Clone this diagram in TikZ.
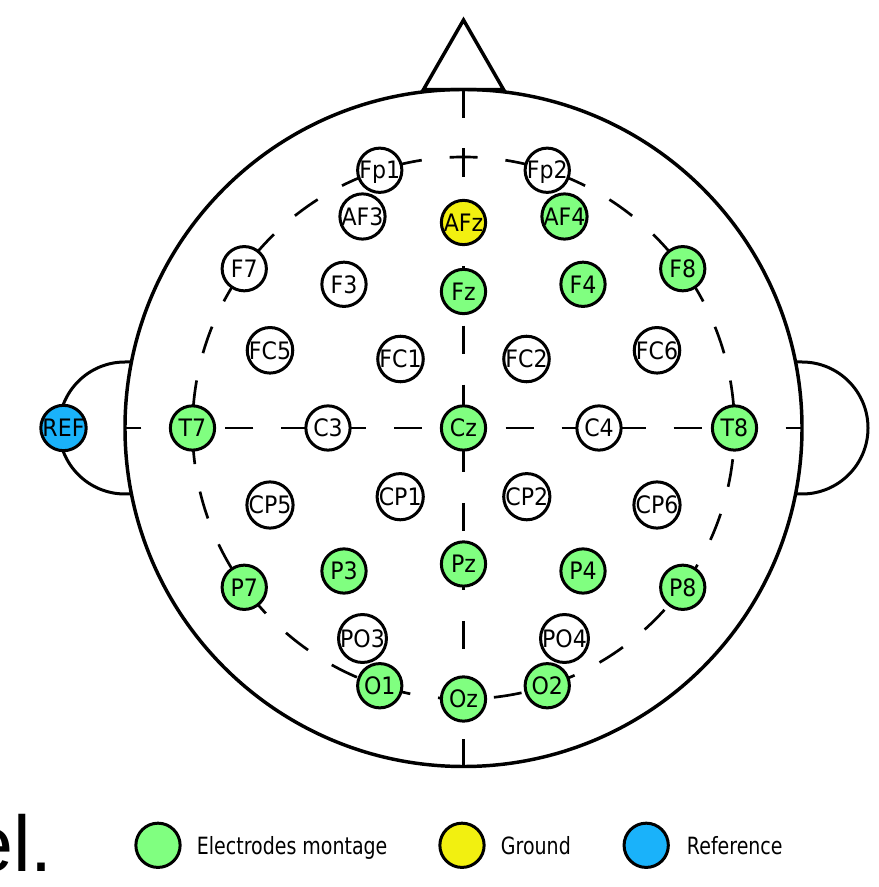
\documentclass[tikz,border=0pt]{standalone}
\usepackage{fontspec}
\newfontfamily\elfont[FakeStretch=0.92]{DejaVu Sans}
\newfontfamily\legfont[FakeStretch=0.8]{DejaVu Sans}
\newfontfamily\capfont{Liberation Sans}
\definecolor{elgreen}{RGB}{128,255,128}
\definecolor{elyellow}{RGB}{242,240,16}
\definecolor{elblue}{RGB}{26,178,250}
\tikzset{
  outline/.style={draw=black, line width=2.6pt, line join=miter},
  earline/.style={draw=black, line width=2.25pt},
  guide/.style={draw=black, line width=2pt, dash pattern=on 21pt off 21pt},
  electrode/.style={circle, draw=black, line width=2.25pt, fill=white,
    minimum size=33.2pt, inner sep=0pt,
    font=\elfont\fontsize{18}{20}\selectfont, text height=13.12pt, text depth=0pt},
  montage/.style={electrode, fill=elgreen},
  ground/.style={electrode, fill=elyellow},
  reference/.style={electrode, fill=elblue},
  legendtext/.style={anchor=base west, inner sep=0pt,
    font=\legfont\fontsize{17.8}{20}\selectfont}
}
\begin{document}
\begin{tikzpicture}[x=0.75pt,y=0.75pt]
  \useasboundingbox (-463.5,-459) rectangle (414.5,428);
  \fill[white] (-463.5,-459) rectangle (414.5,428);
  \clip (-463.5,-459) rectangle (414.5,428);

  % ears
  \draw[earline] (-332,66) -- (-338.5,66) arc[start angle=90, end angle=270, radius=66] -- (-332,-66);
  \draw[earline] (332,66) -- (338.5,66) arc[start angle=90, end angle=-90, radius=66] -- (332,-66);

  % head and nose
  \draw[outline] (0,0) circle[radius=338.5];
  \draw[outline] (-40,338.5) -- (0,408) -- (40,338.5) -- cycle;

  % midlines and the 10% ring
  \draw[guide, dash pattern=on 21.4pt off 22.9pt] (0,338.7) -- (0,-338.5);
  \draw[guide, dash phase=10.5pt] (0,0) -- (-338,0);
  \draw[guide, dash phase=10.5pt] (0,0) -- (338.5,0);
  \draw[guide, dash phase=27.24pt] (271,0) arc[start angle=0, end angle=360, radius=271];

  % frontal pole
  \node[electrode] (fp1) at (108:271) {Fp1};
  \node[electrode] (fp2) at (72:271)  {Fp2};
  \node[electrode] (af3) at (-101,211.5) {AF3};
  \node[ground]    (afz) at (0,205.5)    {AFz};
  \node[montage]   (af4) at (101,211.5)  {AF4};

  % frontal
  \node[electrode] (f7) at (144:271)     {F7};
  \node[electrode] (f3) at (-119.5,143.7) {F3};
  \node[montage]   (fz) at (0,136.5)      {Fz};
  \node[montage]   (f4) at (119.5,143.7)  {F4};
  \node[montage]   (f8) at (36:271)       {F8};

  % fronto-central
  \node[electrode] (fc5) at (-193.5,77.7) {FC5};
  \node[electrode] (fc1) at (-63,69)      {FC1};
  \node[electrode] (fc2) at (63,69)       {FC2};
  \node[electrode] (fc6) at (193.5,77.7)  {FC6};

  % central row
  \node[reference] (ref) at (-400,0)  {REF};
  \node[montage]   (t7)  at (180:271) {T7};
  \node[electrode] (c3)  at (-135.5,0) {C3};
  \node[montage]   (cz)  at (0,0)      {Cz};
  \node[electrode] (c4)  at (135.5,0)  {C4};
  \node[montage]   (t8)  at (0:271)    {T8};

  % centro-parietal
  \node[electrode] (cp5) at (-193.5,-77) {CP5};
  \node[electrode] (cp1) at (-63.3,-68.7) {CP1};
  \node[electrode] (cp2) at (63.3,-68.7)  {CP2};
  \node[electrode] (cp6) at (193.5,-77)   {CP6};

  % parietal
  \node[montage] (p7) at (216:271)      {P7};
  \node[montage] (p3) at (-119.5,-143)  {P3};
  \node[montage] (pz) at (0,-136)       {Pz};
  \node[montage] (p4) at (119.5,-143)   {P4};
  \node[montage] (p8) at (324:271)      {P8};

  % parieto-occipital and occipital
  \node[electrode] (po3) at (-101,-210.5) {PO3};
  \node[electrode] (po4) at (101,-210.5)  {PO4};
  \node[montage]   (o1)  at (252:271)     {O1};
  \node[montage]   (oz)  at (270:271)     {Oz};
  \node[montage]   (o2)  at (288:271)     {O2};

  % legend
  \node[montage]   (keymontage) at (-305.5,-417.3) {};
  \node[legendtext] (keymontagetext) at (-266.8,-426) {Electrodes montage};
  \node[ground]    (keyground) at (-1.5,-417.3) {};
  \node[legendtext] (keygroundtext) at (37.2,-426) {Ground};
  \node[reference] (keyref) at (182.7,-417.3) {};
  \node[legendtext] (keyreftext) at (223.2,-426) {Reference};

  % tail of the caption line
  \node[anchor=base west, inner sep=0pt, font=\capfont\fontsize{59.25}{60}\selectfont]
    (caption) at (-494.5,-443.7) {el.};
\end{tikzpicture}
\end{document}
